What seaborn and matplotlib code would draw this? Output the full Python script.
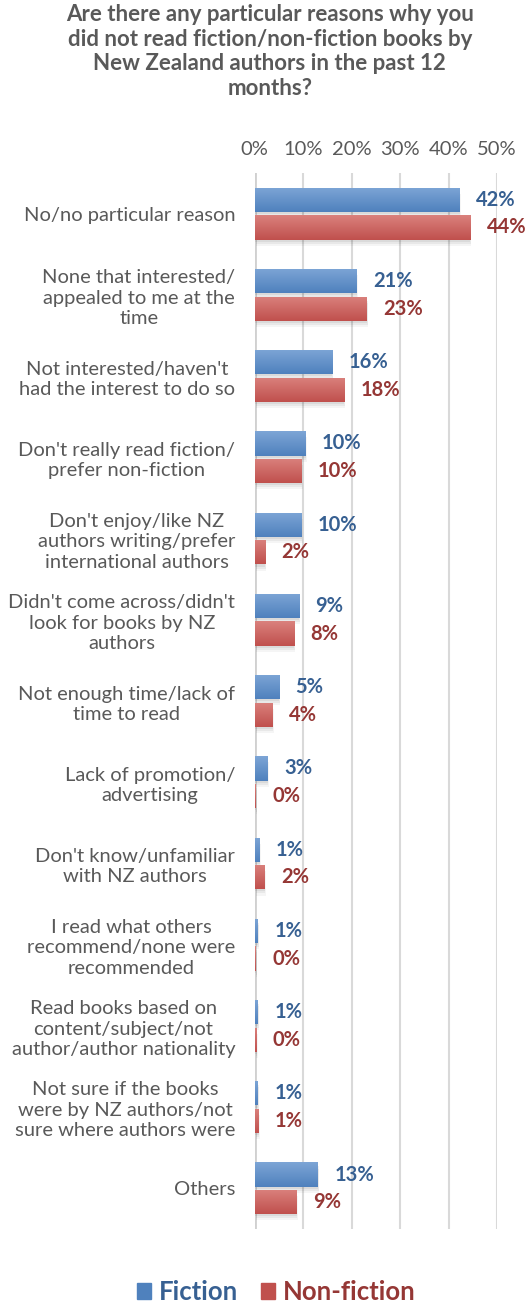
import pandas as pd
import seaborn as sns
import matplotlib.pyplot as plt
import numpy as np
from matplotlib.patches import Rectangle

# data (percent of respondents)
reasons = [
    "No/no particular reason",
    "None that interested/\nappealed to me at the\ntime",
    "Not interested/haven't\nhad the interest to do so",
    "Don't really read fiction/\nprefer non-fiction",
    "Don't enjoy/like NZ\nauthors writing/prefer\ninternational authors",
    "Didn't come across/didn't\nlook for books by NZ\nauthors",
    "Not enough time/lack of\ntime to read",
    "Lack of promotion/\nadvertising",
    "Don't know/unfamiliar\nwith NZ authors",
    "I read what others\nrecommend/none were\nrecommended",
    "Read books based on\ncontent/subject/not\nauthor/author nationality",
    "Not sure if the books\nwere by NZ authors/not\nsure where authors were",
    "Others",
]
fiction = [42.2, 21.0, 15.9, 10.4, 9.6, 9.1, 5.0, 2.6, 0.9, 0.6, 0.6, 0.6, 13.0]
non_fiction = [44.4, 23.1, 18.4, 9.6, 2.1, 8.1, 3.6, 0.2, 2.0, 0.2, 0.3, 0.7, 8.6]
series = ["Fiction", "Non-fiction"]
ticks = [0, 10, 20, 30, 40, 50]

bar_colors = {"Fiction": "#4F81BD", "Non-fiction": "#C0504D"}
light_colors = {"Fiction": "#7DA5D6", "Non-fiction": "#DA817D"}
label_colors = {"Fiction": "#376092", "Non-fiction": "#953735"}

df = pd.DataFrame({
    "reason": reasons * 2,
    "series": ["Fiction"] * len(reasons) + ["Non-fiction"] * len(reasons),
    "value": fiction + non_fiction,
})

plt.rcParams["font.family"] = ["Lato", "DejaVu Sans"]

W, H = 529, 1304
fig = plt.figure(figsize=(W / 100, H / 100), dpi=100)
ax = fig.add_axes([254.7 / W, (H - 1229) / H, 242.3 / W, 1056 / H])

sns.barplot(data=df, y="reason", x="value", hue="series", orient="h",
            palette=bar_colors, width=0.68, gap=0.12, ax=ax,
            legend=False, saturation=1, zorder=3)

# gradient fill + soft shadow on each bar
grad = np.linspace(0, 1, 64).reshape(-1, 1)
n = len(reasons)
for i, p in enumerate(list(ax.patches)):
    s = series[0] if i < n else series[1]
    x0, y0 = p.get_x(), p.get_y()
    w, h = p.get_width(), p.get_height()
    if w <= 0:
        continue
    for k, a in enumerate([0.06, 0.05, 0.04]):
        ax.add_patch(Rectangle((x0 + 0.1 * (k + 1), y0 + 0.025 * (k + 1)), w, h,
                               color="#000000", alpha=a, zorder=2, lw=0))
    cmap = sns.blend_palette([light_colors[s], bar_colors[s]], as_cmap=True)
    im = ax.imshow(grad, cmap=cmap, aspect="auto", zorder=4,
                   extent=(x0, x0 + w, y0 + h, y0))
    im.set_clip_path(p)

ax.set_xlim(0, 50)
ax.set_ylim(len(reasons) - 0.5, -0.5)

# value labels
for i, s in enumerate(series):
    vals = fiction if s == "Fiction" else non_fiction
    off = -0.17 if i == 0 else 0.17
    for j, v in enumerate(vals):
        ax.annotate(f"{int(v + 0.5)}%", (v, j + off), xytext=(12, 0),
                    textcoords="offset points", ha="left", va="center",
                    fontsize=14.5, fontweight="bold", color=label_colors[s])

ax.set_xticks(ticks)
ax.set_xticklabels([f"{t}%" for t in ticks])
ax.xaxis.tick_top()
ax.tick_params(axis="x", length=0, pad=11, labelsize=14.5, labelcolor="#595959")
ax.tick_params(axis="y", length=0, pad=14, labelsize=14.5, labelcolor="#595959")
for lab in ax.get_yticklabels():
    lab.set_multialignment("center")
    lab.set_linespacing(1.25)
ax.grid(axis="x", color="#D9D9D9", lw=1.5, zorder=0)
ax.set_axisbelow(True)
ax.axvline(0, color="#D0D0D0", lw=2, zorder=1)
for sp in ax.spines.values():
    sp.set_visible(False)
ax.set_xlabel("")
ax.set_ylabel("")

fig.text(0.51, 1 - 4 / H,
         "Are there any particular reasons why you\n"
         "did not read fiction/non-fiction books by\n"
         "New Zealand authors in the past 12\nmonths?",
         ha="center", va="top", fontsize=16, fontweight="bold",
         color="#595959", linespacing=1.22)

handles = [Rectangle((0, 0), 1, 1, color=bar_colors[s]) for s in series]
leg = fig.legend(handles, series, loc="center", bbox_to_anchor=(276 / W, 1 - 1292 / H),
                 ncol=2, frameon=False, handlelength=0.55, handleheight=0.55,
                 handletextpad=0.3, columnspacing=0.9,
                 prop={"size": 18.5, "weight": "bold"})
for t, s in zip(leg.get_texts(), series):
    t.set_color(label_colors[s])

fig.savefig("out.png", dpi=100)
